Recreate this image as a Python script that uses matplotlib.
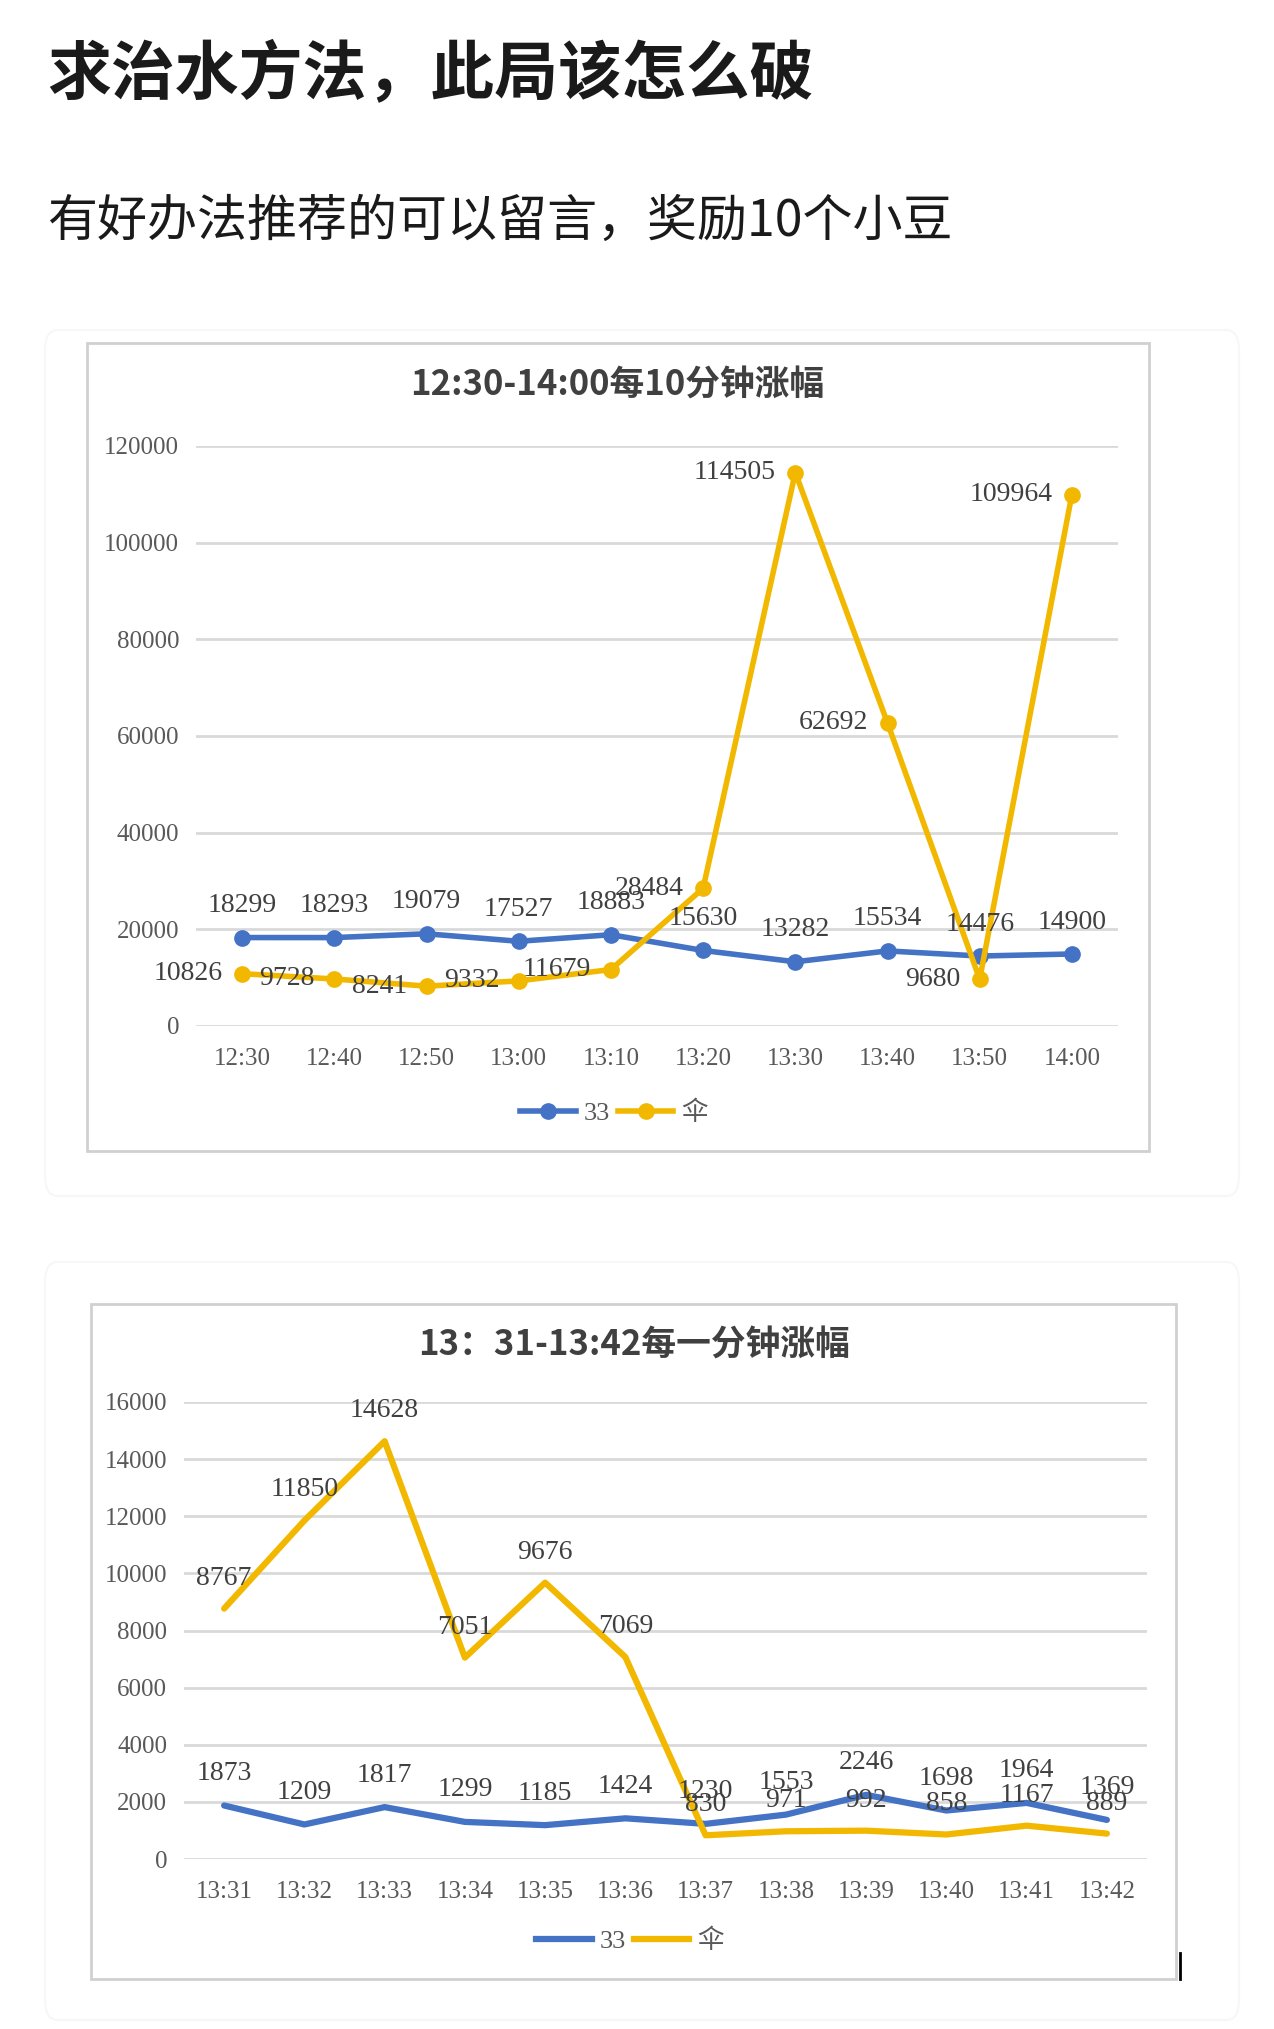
import numpy as np
import matplotlib.pyplot as plt
from matplotlib.patches import Rectangle, FancyBboxPatch
from matplotlib.lines import Line2D

# ---- data ----
times_10min = ['12:30', '12:40', '12:50', '13:00', '13:10', '13:20', '13:30', '13:40', '13:50', '14:00']
s33_10min = [18299, 18293, 19079, 17527, 18883, 15630, 13282, 15534, 14476, 14900]
san_10min = [10826, 9728, 8241, 9332, 11679, 28484, 114505, 62692, 9680, 109964]

times_1min = ['13:31', '13:32', '13:33', '13:34', '13:35', '13:36', '13:37', '13:38', '13:39', '13:40', '13:41', '13:42']
s33_1min = [1873, 1209, 1817, 1299, 1185, 1424, 1230, 1553, 2246, 1698, 1964, 1369]
san_1min = [8767, 11850, 14628, 7051, 9676, 7069, 830, 971, 992, 858, 1167, 889]

series_names = ['33', '伞']
blue = '#4472C4'
gold = '#F2B800'
grid_c = '#D9D9D9'
label_c = '#404040'
tick_c = '#595959'

num_font = ['Liberation Sans Narrow', 'DejaVu Sans Condensed', 'Liberation Serif']
cjk_font = ['Noto Sans CJK SC', 'DejaVu Sans']

W, H = 1274, 2029
fig = plt.figure(figsize=(W / 100, H / 100), dpi=100)
fig.patch.set_facecolor('white')


def fx(px):
    return px / W


def fy(py):
    return (H - py) / H


# header text
fig.text(fx(47), fy(74), '求治水方法，此局该怎么破', family=cjk_font, fontsize=46,
         fontweight='bold', color='#1a1a1a', ha='left', va='center')
fig.text(fx(47), fy(222), '有好办法推荐的可以留言，奖励10个小豆', family=cjk_font, fontsize=36,
         color='#1a1a1a', ha='left', va='center')

# faint card outlines
for (x0, y0, x1, y1) in [(45, 330, 1239, 1196), (45, 1262, 1239, 2020)]:
    fig.patches.append(FancyBboxPatch((fx(x0), fy(y1)), fx(x1 - x0), (y1 - y0) / H,
                                      boxstyle='round,pad=0,rounding_size=0.01',
                                      transform=fig.transFigure, fill=False,
                                      edgecolor='#F7F7F7', lw=1.5))


def draw_chart(box, plot, title, title_xy, cats, a, b, ymax, ystep, markers, yellow_left, legend_xy, lw):
    bx0, by0, bx1, by1 = box
    fig.patches.append(Rectangle((fx(bx0), fy(by1)), fx(bx1 - bx0), (by1 - by0) / H,
                                 transform=fig.transFigure, fill=False,
                                 edgecolor='#D0D0D0', lw=2))
    px0, py0, px1, py1 = plot
    ax = fig.add_axes([fx(px0), fy(py1), fx(px1 - px0), (py1 - py0) / H])
    x = np.arange(len(cats))
    mk = 'o' if markers else None
    ax.plot(x, a, color=blue, lw=lw, marker=mk, ms=11, solid_capstyle='round', zorder=3, clip_on=False)
    ax.plot(x, b, color=gold, lw=lw, marker=mk, ms=11, solid_capstyle='round', zorder=4, clip_on=False)
    ax.set_xlim(-0.5, len(cats) - 0.5)
    ax.set_ylim(0, ymax)
    ax.set_yticks(np.arange(0, ymax + 1, ystep))
    ax.set_xticks(x)
    ax.set_xticklabels(cats)
    ax.yaxis.grid(True, color=grid_c, lw=2)
    ax.set_axisbelow(True)
    for s in ax.spines.values():
        s.set_visible(False)
    ax.tick_params(length=0, colors=tick_c, labelsize=18)
    ax.tick_params(axis='x', pad=16)
    ax.tick_params(axis='y', pad=12)
    for lab in ax.get_xticklabels() + ax.get_yticklabels():
        lab.set_family(num_font)
    for i in range(len(cats)):
        ax.annotate(str(a[i]), (x[i], a[i]), xytext=(0, 23), textcoords='offset points',
                    ha='center', va='center', fontsize=20, family=num_font, color=label_c, zorder=6)
        if yellow_left:
            ax.annotate(str(b[i]), (x[i], b[i]), xytext=(-14, 0), textcoords='offset points',
                        ha='right', va='center', fontsize=20, family=num_font, color=label_c, zorder=6)
        else:
            ax.annotate(str(b[i]), (x[i], b[i]), xytext=(0, 22), textcoords='offset points',
                        ha='center', va='center', fontsize=20, family=num_font, color=label_c, zorder=6)
    fig.text(fx(title_xy[0]), fy(title_xy[1]), title, family=cjk_font, fontsize=25,
             fontweight='bold', color=label_c, ha='center', va='center')
    handles = [Line2D([], [], color=blue, lw=lw, marker=mk, ms=11),
               Line2D([], [], color=gold, lw=lw, marker=mk, ms=11)]
    fig.legend(handles, series_names, loc='center', bbox_to_anchor=(fx(legend_xy[0]), fy(legend_xy[1])),
               ncol=2, frameon=False, handlelength=2.1, handletextpad=0.3, columnspacing=0.3,
               prop={'family': num_font + ['Noto Sans CJK SC'], 'size': 19}, labelcolor=tick_c)
    return ax


draw_chart((87, 343, 1149, 1151), (196, 446, 1118, 1026), '12:30-14:00每10分钟涨幅', (617, 385),
           times_10min, s33_10min, san_10min, 120000, 20000, True, True, (614, 1113), 4)
draw_chart((91, 1304, 1176, 1979), (184, 1402, 1147, 1859), '13：31-13:42每一分钟涨幅', (634, 1345),
           times_1min, s33_1min, san_1min, 16000, 2000, False, False, (630, 1941), 4.5)

# stray cursor mark at bottom right
fig.add_artist(Line2D([fx(1180), fx(1180)], [fy(1953), fy(1979)], color='black', lw=2))

plt.savefig('out.png', dpi=100)
